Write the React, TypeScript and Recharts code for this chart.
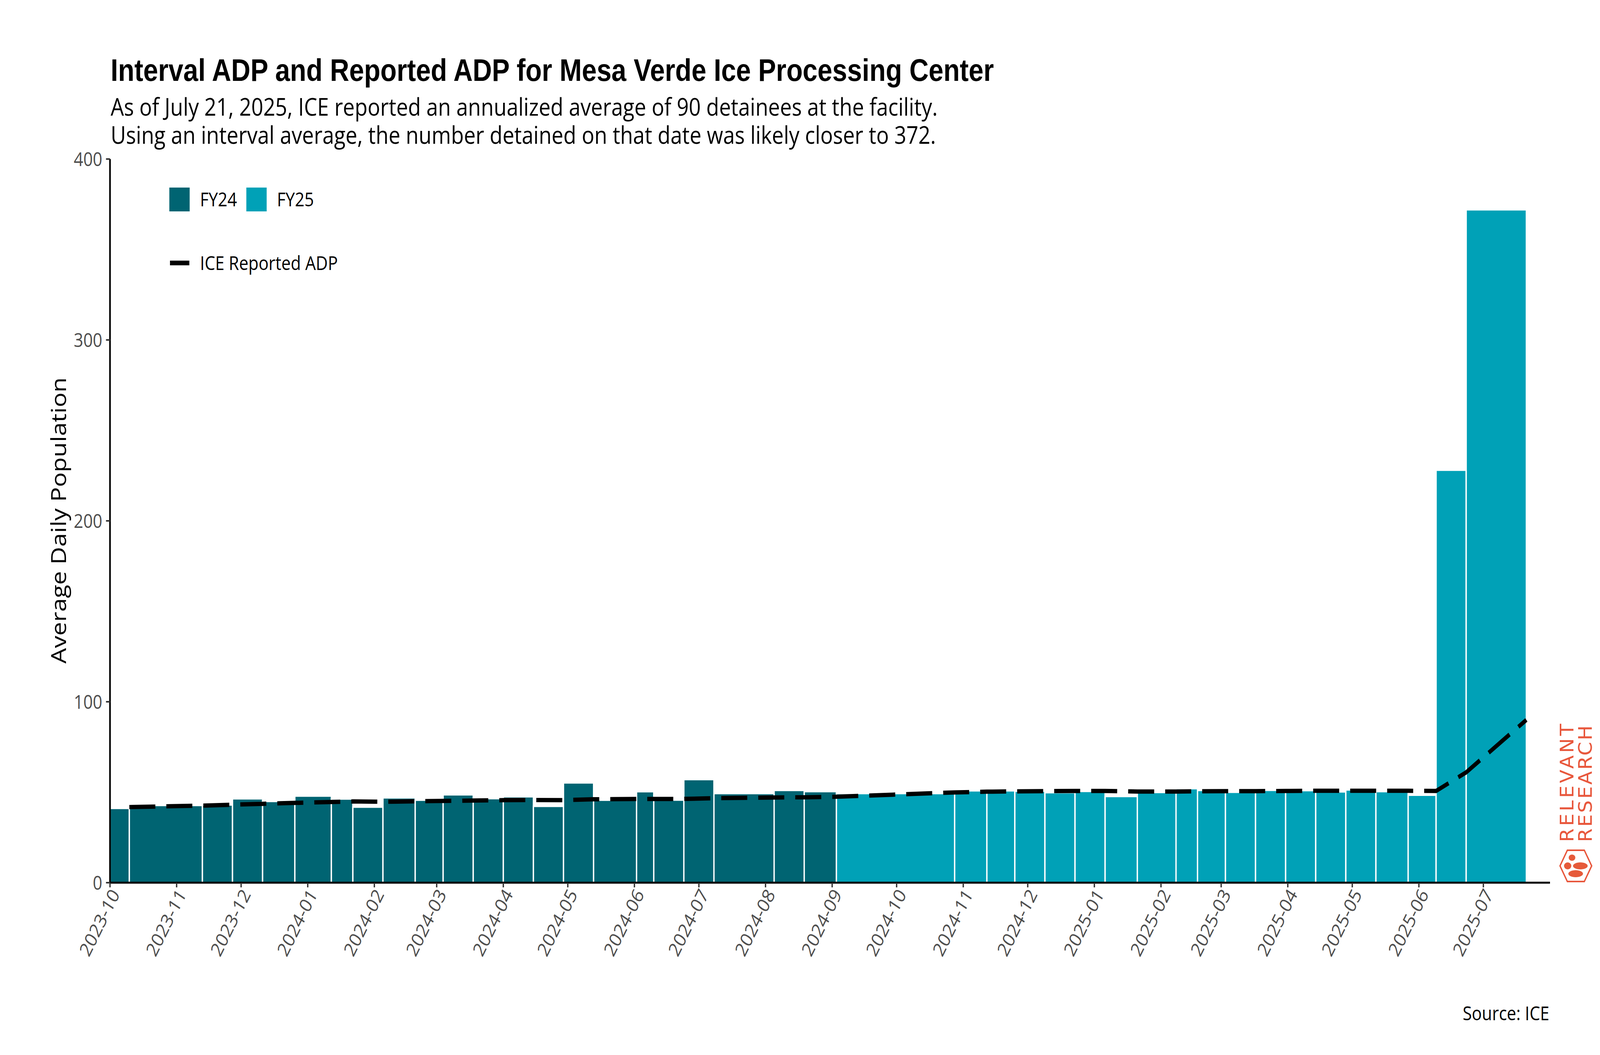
import { ComposedChart, Line, XAxis, YAxis, ReferenceArea } from 'recharts';

// interval edges = ICE stats release dates (first edge is the start of FY24)
const intervalEdges = [
  '2023-10-01', '2023-10-10', '2023-11-13', '2023-11-27', '2023-12-11', '2023-12-26',
  '2024-01-12', '2024-01-22', '2024-02-05', '2024-02-20', '2024-03-04', '2024-03-18',
  '2024-04-01', '2024-04-15', '2024-04-29', '2024-05-13', '2024-06-02', '2024-06-10',
  '2024-06-24', '2024-07-08', '2024-08-05', '2024-08-19', '2024-09-03',
  '2024-10-28', '2024-11-12', '2024-11-25', '2024-12-09', '2024-12-23', '2025-01-06',
  '2025-01-21', '2025-02-08', '2025-02-18', '2025-03-03', '2025-03-17', '2025-03-31',
  '2025-04-14', '2025-04-28', '2025-05-12', '2025-05-27', '2025-06-09', '2025-06-23',
  '2025-07-21',
];

// interval ADP, one value per interval (edge i -> edge i+1)
const intervalAdp = [
  41.1, 42.7, 43.0, 46.4, 44.9, 47.9, 46.3, 41.8, 46.9, 45.6, 48.6,
  46.5, 47.5, 42.2, 55.2, 45.6, 50.3, 45.7, 57.0, 49.3, 51.0, 50.4,
  49.3, 50.8, 50.8, 50.6, 49.8, 50.5, 47.7, 49.9, 52.0, 51.0,
  50.0, 51.1, 50.9, 50.2, 51.3, 50.4, 48.4, 228, 372,
];

// ICE reported (annualized) ADP at each release date (edges 1..n)
const reportedAdp = [
  41.8, 42.6, 43.1, 43.6, 44.1, 44.6, 44.9, 44.7, 45.0, 45.2, 45.4,
  45.6, 45.7, 45.6, 46.1, 46.3, 46.3, 46.3, 46.7, 47.1, 47.2, 47.5,
  49.9, 50.3, 50.5, 50.6, 50.7, 50.7, 50.4, 50.4, 50.5, 50.6,
  50.6, 50.7, 50.8, 50.8, 50.8, 50.8, 50.7, 61.0, 90.0,
];

const monthTicks = [
  '2023-10', '2023-11', '2023-12', '2024-01', '2024-02', '2024-03', '2024-04',
  '2024-05', '2024-06', '2024-07', '2024-08', '2024-09', '2024-10', '2024-11',
  '2024-12', '2025-01', '2025-02', '2025-03', '2025-04', '2025-05', '2025-06', '2025-07',
];
const yTicks = [0, 100, 200, 300, 400];

const W = 4800;
const H = 2700;
const FY24_COLOR = '#006472';
const FY25_COLOR = '#00a1b7';
const FY25_START = '2024-10-01';
const SANS = '"Open Sans", "Noto Sans", sans-serif';

const ts = (d: string) =>
  Date.UTC(+d.slice(0, 4), +d.slice(5, 7) - 1, d.length > 7 ? +d.slice(8, 10) : 1);

const bars = intervalAdp.map((v, i) => ({
  x1: ts(intervalEdges[i]),
  x2: ts(intervalEdges[i + 1]),
  value: v,
  fy: intervalEdges[i + 1] >= FY25_START ? 'FY25' : 'FY24',
}));

const linePoints = reportedAdp.map((v, i) => ({ t: ts(intervalEdges[i + 1]), adp: v }));

function MonthTick({ x, y, payload }: any) {
  const d = new Date(payload.value);
  const label = `${d.getUTCFullYear()}-${String(d.getUTCMonth() + 1).padStart(2, '0')}`;
  return (
    <g transform={`translate(${x},${y})`}>
      <text transform="rotate(-60)" textAnchor="end" dy="0.71em" fill="#4d4d4d" fontSize={50} fontFamily={SANS}>
        {label}
      </text>
    </g>
  );
}

function Overlay() {
  return (
    <svg width={W} height={H} style={{ position: 'absolute', left: 0, top: 0, pointerEvents: 'none' }}>
      <text x={332} y={207} fontFamily='"Liberation Sans", Arial, sans-serif' fontWeight="bold" fontSize={80} fill="#000">
        Interval ADP and Reported ADP for Mesa Verde Ice Processing Center
      </text>
      <text fontFamily={SANS} fontSize={63} fill="#000">
        <tspan x={332} y={296}>As of July 21, 2025, ICE reported an annualized average of 90 detainees at the facility.</tspan>
        <tspan x={332} y={368}>Using an interval average, the number detained on that date was likely closer to 372.</tspan>
      </text>

      <text transform="translate(198,1332) rotate(-90)" textAnchor="middle" fontFamily={SANS} fontSize={63} fill="#000">
        Average Daily Population
      </text>

      {/* legend */}
      <rect x={508} y={480} width={61} height={61} fill={FY24_COLOR} />
      <text x={600} y={528} fontFamily={SANS} fontSize={50} fill="#000">FY24</text>
      <rect x={739} y={480} width={61} height={61} fill={FY25_COLOR} />
      <text x={831} y={528} fontFamily={SANS} fontSize={50} fill="#000">FY25</text>
      <line x1={510} x2={568} y1={673} y2={673} stroke="#000" strokeWidth={12} />
      <text x={600} y={691} fontFamily={SANS} fontSize={50} fill="#000">ICE Reported ADP</text>

      <text x={4648} y={2611} textAnchor="end" fontFamily={SANS} fontSize={50} fill="#000">Source: ICE</text>

      {/* logo */}
      <g fill="#e8573c" fontFamily='"Liberation Sans Narrow", "DejaVu Sans Condensed", sans-serif'>
        <text transform="translate(4720,2155) rotate(-90)" fontSize={56} letterSpacing={6}>RELEVANT</text>
        <text transform="translate(4775,2155) rotate(-90)" fontSize={56} letterSpacing={4}>RESEARCH</text>
      </g>
      <polygon points="4680,2216 4702,2176 4753,2176 4775,2216 4753,2256 4702,2256" fill="none" stroke="#e8573c" strokeWidth={4} />
      <g fill="#e65a3a">
        <ellipse cx={4716} cy={2195} rx={10} ry={8} />
        <ellipse cx={4703} cy={2216} rx={11} ry={9} />
        <ellipse cx={4741} cy={2216} rx={22} ry={9} />
        <ellipse cx={4727} cy={2236} rx={22} ry={9} />
      </g>
    </svg>
  );
}

export default function App() {
  // the browser may give a viewport narrower than 4800; fit the fixed-size chart into it
  const vw = typeof window !== 'undefined' ? window.innerWidth : W;
  const vh = typeof window !== 'undefined' ? window.innerHeight : H;
  const sx = Math.min(1, vw / W);
  const sy = Math.min(1, vh / H);
  return (
    <div style={{ position: 'fixed', left: 0, top: 0, width: vw, height: vh, overflow: 'hidden', background: '#fff' }}>
      <div style={{ position: 'absolute', left: 0, top: 0, width: W, height: H, transform: `scale(${sx},${sy})`, transformOrigin: '0 0' }}>
        <ComposedChart
          width={W}
          height={H}
          data={linePoints}
          margin={{ top: 407, right: 150, bottom: 141, left: 200 }}
        >
          {bars.map((b, i) => (
            <ReferenceArea
              key={i}
              x1={b.x1}
              x2={b.x2}
              y1={0}
              y2={b.value}
              fill={b.fy === 'FY24' ? FY24_COLOR : FY25_COLOR}
              fillOpacity={1}
              stroke="#ffffff"
              strokeWidth={4}
              ifOverflow="visible"
            />
          ))}
          <Line
            type="linear"
            dataKey="adp"
            stroke="#000"
            strokeWidth={11}
            strokeDasharray="78 33"
            dot={false}
            activeDot={false}
            isAnimationActive={false}
          />
          <XAxis
            dataKey="t"
            type="number"
            domain={[ts('2023-10-01'), ts('2025-08-01')]}
            ticks={monthTicks.map(ts)}
            interval={0}
            allowDataOverflow
            height={300}
            tick={<MonthTick />}
            tickSize={12}
            tickMargin={0}
            tickLine={{ stroke: '#333333', strokeWidth: 4 }}
            axisLine={{ stroke: '#000', strokeWidth: 5 }}
          />
          <YAxis
            type="number"
            domain={[0, 400]}
            ticks={yTicks}
            interval={0}
            width={130}
            tickSize={12}
            tickMargin={11}
            tick={{ fill: '#4d4d4d', fontSize: 50, fontFamily: SANS }}
            tickLine={{ stroke: '#333333', strokeWidth: 4 }}
            axisLine={{ stroke: '#000', strokeWidth: 5 }}
          />
        </ComposedChart>
        <Overlay />
      </div>
    </div>
  );
}
